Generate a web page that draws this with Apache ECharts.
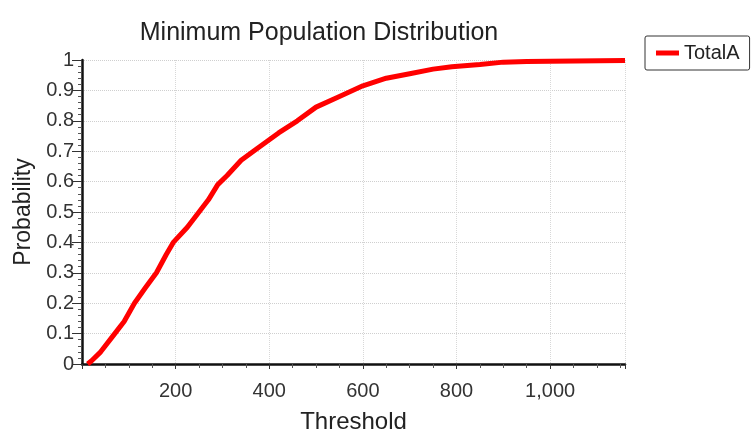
<!DOCTYPE html>
<html>
<head>
<meta charset="utf-8">
<script src="https://cdn.jsdelivr.net/npm/echarts@6/dist/echarts.min.js"></script>
<style>
  html, body { margin: 0; padding: 0; background: #fff; }
  #chart { width: 751px; height: 434px; }
</style>
</head>
<body>
<div id="chart"></div>
<script>
/* data */
var threshold = [12, 20, 40, 70, 90, 112, 135, 159, 180, 195, 225, 250, 270, 290, 310, 340, 375, 420, 460, 500, 550, 600, 650, 700, 750, 790, 850, 900, 950, 1000, 1160];
var probability = [0, 0.01, 0.04, 0.1, 0.14, 0.2, 0.25, 0.3, 0.36, 0.4, 0.45, 0.5, 0.54, 0.59, 0.62, 0.67, 0.71, 0.76, 0.8, 0.845, 0.88, 0.915, 0.94, 0.955, 0.97, 0.978, 0.985, 0.993, 0.995, 0.996, 0.998];
var seriesName = 'TotalA';

var points = [];
for (var i = 0; i < threshold.length; i++) {
	points.push([threshold[i], probability[i]]);
}

var chart = echarts.init(document.getElementById('chart'));
var font = 'Arial, "Liberation Sans", sans-serif';
var options = {
	animation: false,
	title: {
		text: 'Minimum Population Distribution',
		left: 314, top: 16, textAlign: 'center',
		textStyle: { fontFamily: font, fontSize: 25, fontWeight: 'normal', color: '#222' }
	},
	legend: {
		left: 645, top: 36,
		data: [seriesName],
		icon: 'rect', itemWidth: 23, itemHeight: 5, itemGap: 8,
		borderColor: '#333', borderWidth: 1, borderRadius: 2,
		padding: [7, 10, 7, 11],
		textStyle: { fontFamily: font, fontSize: 20, color: '#222' }
	},
	grid: { left: 82, right: 126, top: 60, bottom: 70, outerBoundsMode: 'none', containLabel: false },
	xAxis: {
		type: 'value', min: 0, max: 1160, interval: 200,
		name: 'Threshold', nameLocation: 'middle', nameGap: 46,
		nameTextStyle: { fontFamily: font, fontSize: 24, color: '#222' },
		axisLine: { lineStyle: { color: '#111', width: 2.5 } },
		axisTick: { length: 5, lineStyle: { color: '#333' } },
		minorTick: { show: true, splitNumber: 4, length: 4, lineStyle: { color: '#555' } },
		axisLabel: {
			fontFamily: font, fontSize: 20, color: '#333', margin: 17,
			showMinLabel: false, showMaxLabel: false,
			formatter: function (v) { return v.toLocaleString('en-US'); }
		},
		splitLine: { show: true, lineStyle: { color: '#d8d8d8', type: 'dotted' } }
	},
	yAxis: {
		type: 'value', min: 0, max: 1, interval: 0.1,
		name: 'Probability', nameLocation: 'middle', nameGap: 47,
		nameTextStyle: { fontFamily: font, fontSize: 23, color: '#222' },
		axisLine: { show: true, lineStyle: { color: '#111', width: 2.5 } },
		axisTick: { show: true, length: 10, lineStyle: { color: '#333' } },
		minorTick: { show: true, splitNumber: 5, length: 4, lineStyle: { color: '#555' } },
		axisLabel: {
			fontFamily: font, fontSize: 20, color: '#333', margin: 8,
			formatter: function (v) { return String(+v.toFixed(1)); }
		},
		splitLine: { show: true, lineStyle: { color: '#cfcfcf', type: 'dotted' } }
	},
	series: [{
		name: seriesName,
		type: 'line',
		data: points,
		showSymbol: false,
		color: '#ff0000',
		lineStyle: { width: 5, color: '#ff0000' }
	}]
};
chart.setOption(options);
</script>
</body>
</html>
